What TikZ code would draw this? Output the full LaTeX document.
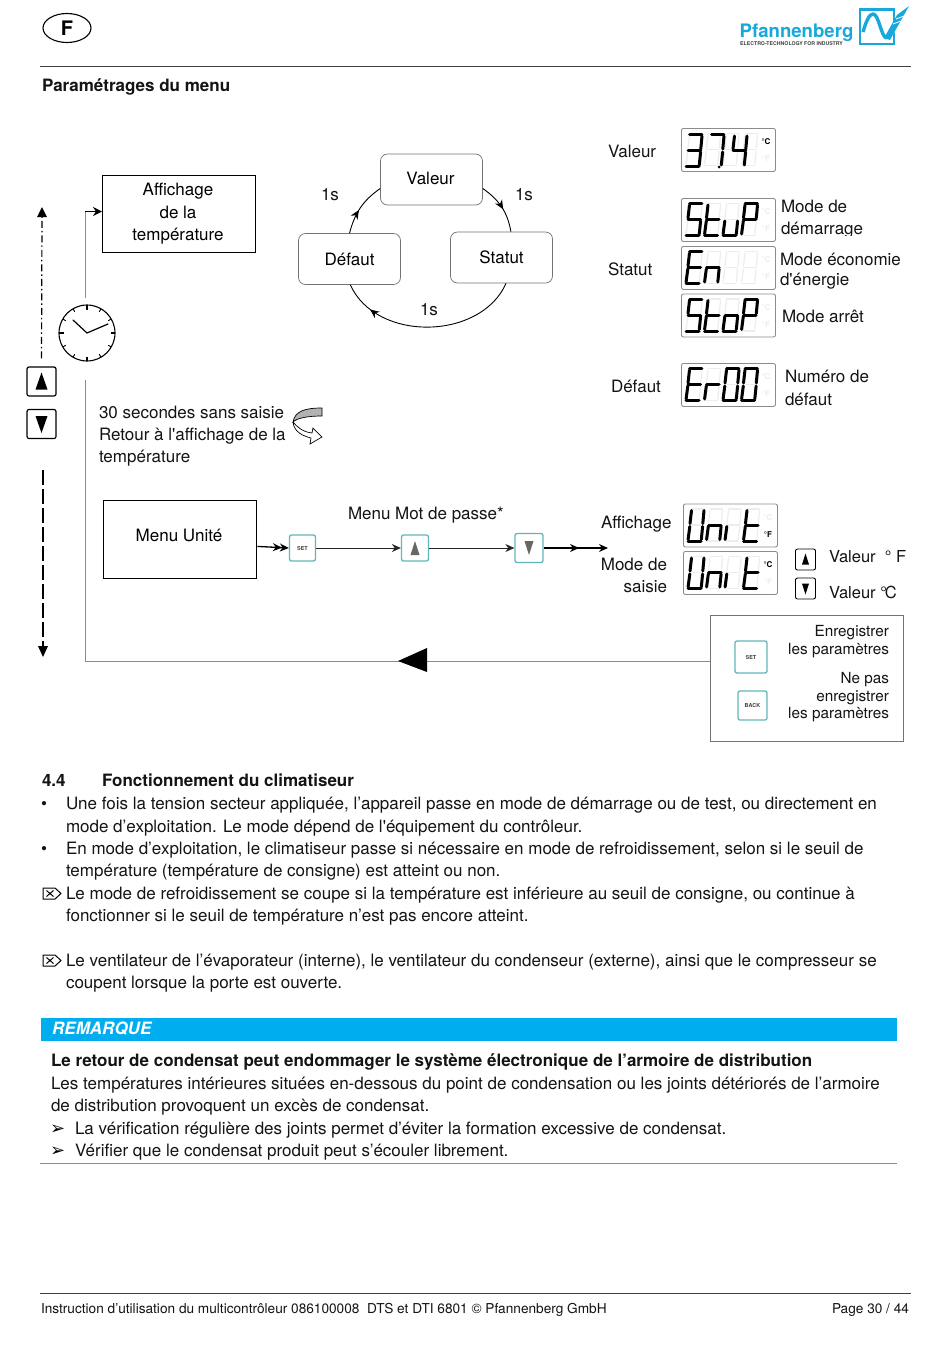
\documentclass[tikz,border=0pt]{standalone}
\usepackage{fontspec}
\setmainfont{TeX Gyre Heros}[Ligatures=TeXOff]
\newfontfamily\symfont{DejaVu Sans}
\usetikzlibrary{arrows.meta,decorations.markings,calc,shapes.geometric}
\definecolor{pfcyan}{HTML}{00AEEF}
\definecolor{logocyan}{HTML}{18A8DC}
\definecolor{teal}{HTML}{5FB8BC}
\definecolor{linegray}{HTML}{8C8C8C}
\definecolor{ghostgray}{HTML}{EDEDED}
\definecolor{rulegray}{HTML}{404040}
\tikzset{
 x=1pt,y=1pt,
 txt/.style={anchor=base west,inner sep=0pt,outer sep=0pt,font=\fontsize{17}{19}\selectfont,text=black!92},
 txtr/.style={txt,anchor=base east},
 txtb/.style={txt,font=\fontsize{17}{19}\selectfont\bfseries},
 sq/.style={draw=black,line width=1.3pt,fill=white,inner sep=0pt},
 sqtext/.style={inner sep=0pt,align=center,font=\fontsize{17}{22.5}\selectfont},
 rbox/.style={draw=black!55,line width=.7pt,rounded corners=7pt,fill=white,minimum width=102pt,minimum height=51pt,inner sep=0pt,font=\fontsize{17}{19}\selectfont},
 cyc/.style={draw=black,line width=.9pt},
 lcdbox/.style={draw=black!45,line width=.9pt,rounded corners=2pt,fill=white,minimum width=94pt,minimum height=43pt,inner sep=0pt},
 seg/.style={line width=3pt,line cap=round,black},
 gseg/.style={line width=1.2pt,line cap=round,ghostgray},
 keybtn/.style={draw=black,line width=1.2pt,rounded corners=2pt,fill=white,inner sep=0pt},
 tealbtn/.style={draw=teal,line width=1.3pt,rounded corners=2pt,fill=white,inner sep=0pt,font=\fontsize{5.5}{6}\selectfont\bfseries,text=black!75},
 flow/.style={draw=black!85,line width=.9pt},
 tip/.style={-{Stealth[length=9pt,width=8pt]}},
 midtip/.style={postaction={decorate},decoration={markings,mark=at position #1 with {\arrow{Stealth[length=9pt,width=8pt]}}}},
 hair/.style={line width=1pt,rulegray},
}
\newcommand{\tl}[4]{\node[txt] (#1) at (#2,-#3) {#4};}
\newcommand{\trt}[4]{\node[txtr] (#1) at (#2,-#3) {#4};}
\newcommand{\tb}[4]{\node[txtb] (#1) at (#2,-#3) {#4};}
\newcommand{\segpts}{%
 \coordinate (a1) at (3.7,0);\coordinate (a2) at (15.8,0);
 \coordinate (b1) at (16,-1.5);\coordinate (b2) at (14.8,-14.5);
 \coordinate (c1) at (14.6,-17.5);\coordinate (c2) at (13.3,-30.5);
 \coordinate (d1) at (0.2,-32);\coordinate (d2) at (13,-32);
 \coordinate (e1) at (1.8,-17.5);\coordinate (e2) at (0.1,-30.5);
 \coordinate (f1) at (3.5,-1.5);\coordinate (f2) at (2,-14.5);
 \coordinate (g1) at (2.2,-16);\coordinate (g2) at (14.5,-16);}
\newcommand{\ghostdig}[2]{\begin{scope}[shift={(#1,{-(#2)})}]\segpts
 \foreach \s in {a,b,c,d,e,f,g}{\draw[gseg] (\s1)--(\s2);}\end{scope}}
\newcommand{\litdig}[3]{\begin{scope}[shift={(#1,{-(#2)})}]\segpts
 \foreach \s in {#3}{\draw[seg] (\s1)--(\s2);}\end{scope}}
% display: name, left x, top y, C colour, F colour
\newcommand{\lcd}[5]{%
 \node[lcdbox,anchor=north west] (#1) at (#2,-#3) {};
 \foreach \i in {0,1,2,3}{\ghostdig{#2+5+\i*18.5}{#3+5.5}}
 \node[inner sep=0pt,font=\fontsize{8}{8}\selectfont\bfseries,text=#4] (#1C) at (#2+85,-#3-14) {°C};
 \node[inner sep=0pt,font=\fontsize{8}{8}\selectfont\bfseries,text=#5] (#1F) at (#2+85,-#3-31) {°F};}
% digits of a display: left x, top y, then four segment lists
\newcommand{\lcdword}[6]{%
 \litdig{#1+5}{#2+5.5}{#3}\litdig{#1+23.5}{#2+5.5}{#4}\litdig{#1+42}{#2+5.5}{#5}\litdig{#1+60.5}{#2+5.5}{#6}}
\newcommand{\erasebox}[2]{%
 \draw[line width=1pt,line join=miter] (#1,-#2) -- (#1+12,-#2) -- (#1+18,-#2-5.5) -- (#1+12,-#2-11) -- (#1,-#2-11) -- cycle;
 \draw[line width=1pt] (#1+3.5,-#2-2.5) -- (#1+10.5,-#2-8.5) (#1+3.5,-#2-8.5) -- (#1+10.5,-#2-2.5);}
\begin{document}
\begin{tikzpicture}
\useasboundingbox (0,0) rectangle (950,-1369);
\fill[white] (0,0) rectangle (950,-1369);
% ---------- header
\node[ellipse,draw=black,line width=1.1pt,minimum width=48pt,minimum height=29pt,inner sep=0pt,font=\fontsize{20}{20}\selectfont\bfseries] (lang) at (67,-28) {F};
\draw[hair] (40,-66.5) -- (911,-66.5);
\tb{title}{42}{91}{Paramétrages du menu}
% logo
\node[anchor=base west,inner sep=0pt,font=\fontsize{18.6}{19}\selectfont\bfseries,text=logocyan] (logoname) at (739.5,-37) {Pfannenberg};
\node[anchor=base west,inner sep=0pt,font=\fontsize{5.2}{6}\selectfont\bfseries,text=black!75] (logosub) at (740,-45) {ELECTRO-TECHNOLOGY FOR INDUSTRY};
\draw[logocyan,line width=2.8pt] (860,-9.5) rectangle (894,-44);
\draw[white,line width=6pt] (888,-36) -- (908,-8);
\draw[logocyan,line width=3.4pt,line join=round] (863,-32) .. controls (866,-22) and (869,-14) .. (873,-14) .. controls (879,-14) and (881,-38) .. (887,-38);
\fill[logocyan] (884,-38) -- (890,-40) -- (909,-6) -- (897,-15) -- cycle;
\draw[white,line width=.8pt] (893,-24) -- (901,-21) (896,-19) -- (904,-16);
% ---------- cycle
\node[rbox] (val) at (431.5,-179.5) {\raisebox{2pt}{\hspace{-2pt}Valeur}};
\node[rbox] (def) at (349.5,-259) {Défaut};
\node[rbox] (sta) at (501.5,-257.5) {Statut};
\draw[cyc,midtip=0.45] (def.north) to[out=75,in=215] (val.190);
\draw[cyc,midtip=0.55] (val.-10) to[out=-35,in=100] (sta.70);
\draw[cyc,midtip=0.83] (sta.-80) to[out=-114,in=-66,looseness=1.03] (def.-88);
\tl{s1}{321}{200}{1s}
\tl{s2}{515}{200}{1s}
\tl{s3}{420}{315}{1s}
% ---------- display column
\tl{lval}{608}{157}{Valeur}
\lcd{dval}{681}{128}{black}{ghostgray}
\litdig{686}{134.5}{a,b,g,c,d}
\litdig{708}{134.5}{a,b,c}
\litdig{731}{134.5}{f,g,b,c}
\fill (719,-167) circle (1.5pt);
\tl{lsta}{608}{275}{Statut}
\lcd{dstup}{681}{198}{ghostgray}{ghostgray}
\lcdword{681}{198}{a,f,g,c,d}{f,g,e,d}{e,d,c}{a,b,f,g,e}
\lcd{den}{681}{246}{ghostgray}{ghostgray}
\lcdword{681}{246}{a,f,g,e,d}{e,g,c}{}{}
\lcd{dstop}{681}{293.5}{ghostgray}{ghostgray}
\lcdword{681}{293.5}{a,f,g,c,d}{f,g,e,d}{g,e,c,d}{a,b,f,g,e}
\lcd{derr}{681}{363}{ghostgray}{ghostgray}
\lcdword{681}{363}{a,f,g,e,d}{e,g}{a,b,c,d,e,f}{a,b,c,d,e,f}
\tl{ldef}{611}{392}{Défaut}
\tl{m1}{781}{212}{Mode de}
\begin{scope}
\clip (775,-214) rectangle (900,-235);
\tl{m2}{781}{234}{démarrage}
\end{scope}
\tl{m3}{780}{265}{Mode économie}
\tl{m4}{780}{285}{d'énergie}
\tl{m5}{782}{322}{Mode arrêt}
\tl{m6}{785}{382}{Numéro de}
\tl{m7}{785}{405}{défaut}
% ---------- left side
\node[sq,anchor=north west,minimum width=153pt,minimum height=77pt] (aff) at (102,-175) {};
\node[sqtext] (afflabel) at (178,-214) {Affichage\\de la\\température};
\node[sq,anchor=north west,minimum width=153pt,minimum height=78pt] (unit) at (103,-500) {};
\node[sqtext] (unitlabel) at (179,-535) {Menu Unité};
% clock
\node[circle,draw=black,line width=1.1pt,minimum size=56pt,inner sep=0pt,fill=white] (clock) at (87,-333) {};
\foreach \a in {0,90,180,270}{\draw[line width=1.2pt] (clock.center)++(\a:23.5) -- ++(\a:4.5);}
\foreach \a in {30,60,120,150,210,240,300,330}{\draw[line width=.9pt] (clock.center)++(\a:24.5) -- ++(\a:3.5);}
\draw[line width=1.2pt,line cap=round] (73,-320) -- (87,-333) -- (108,-324);
% keys and dashed arrows
\node[keybtn,minimum size=29pt] (kup) at (41.5,-381.5) {};
\node[keybtn,minimum size=29pt] (kdn) at (41.5,-424) {};
\fill ([shift={(0,9)}]kup.center) -- ([shift={(6,-8)}]kup.center) -- ([shift={(-6,-8)}]kup.center) -- cycle;
\fill ([shift={(0,-9)}]kdn.center) -- ([shift={(6,8)}]kdn.center) -- ([shift={(-6,8)}]kdn.center) -- cycle;
\coordinate (uptop) at (42,-207);
\coordinate (dnbot) at (43,-657);
\coordinate (dnstart) at (43,-470);
\draw[line width=1.2pt,dash pattern=on 7pt off 3pt on 1.5pt off 3pt] ([yshift=8pt]kup.north) -- ([yshift=-8pt]uptop);
\fill (uptop) -- ++(-5,-10) -- ++(10,0) -- cycle;
\draw[line width=1.2pt,dash pattern=on 15pt off 4pt] (dnstart) -- ([yshift=9pt]dnbot);
\fill (dnbot) -- ++(-5,11) -- ++(10,0) -- cycle;
\tl{wait1}{99}{418}{30 secondes sans saisie}
\tl{wait2}{99}{440}{Retour à l'affichage de la}
\tl{wait3}{99}{462}{température}
% curved arrow
\filldraw[fill=black!30,draw=black,line width=.7pt] (322,-408) .. controls (305,-408) and (295,-411) .. (293,-422) .. controls (297,-418) and (308,-416) .. (322,-416) -- cycle;
\filldraw[fill=white,draw=black,line width=.7pt] (293,-422) .. controls (294,-432) and (303,-436) .. (311,-438) -- (310,-444) -- (322,-437) -- (313,-428) -- (312,-433) .. controls (303,-432) and (297,-427) .. (293,-422);
% ---------- menu row
\node[tealbtn,minimum width=26pt,minimum height=26pt] (set) at (302.5,-548) {SET};
\node[tealbtn,minimum width=27pt,minimum height=26pt] (bup) at (415,-548) {};
\node[tealbtn,minimum width=28pt,minimum height=29pt] (bdn) at (529,-548) {};
\fill[black!60] ([shift={(0,7)}]bup.center) -- ([shift={(4.5,-7)}]bup.center) -- ([shift={(-4.5,-7)}]bup.center) -- cycle;
\fill[black!60] ([shift={(0,-7)}]bdn.center) -- ([shift={(4.5,7)}]bdn.center) -- ([shift={(-4.5,7)}]bdn.center) -- cycle;
\draw[line width=1.3pt,tip,midtip=0.78] (unit.-5) -- (set.west);
\draw[flow,tip] (set.east) -- (bup.west);
\draw[flow,tip] (bup.east) -- (bdn.west);
\coordinate (rowend) at (608,-548);
\draw[line width=1.1pt,tip,midtip=0.55] (bdn.east) -- (rowend);
\tl{pw}{348}{519}{Menu Mot de passe*}
\begin{scope}
\clip (595,-500) rectangle (670.5,-540);
\tl{aff2}{601}{528}{Affichage}
\end{scope}
\trt{ms1}{667}{570}{Mode de}
\trt{ms2}{667}{592}{saisie}
\lcd{dun1}{683}{503.5}{ghostgray}{black}
\lcdword{683}{503.5}{e,d,c,b,f}{e,g,c}{e}{f,g,e,d}
\lcd{dun2}{683}{551}{black}{ghostgray}
\lcdword{683}{551}{e,d,c,b,f}{e,g,c}{e}{f,g,e,d}
\node[keybtn,line width=.9pt,minimum width=20pt,minimum height=21pt] (su) at (805.5,-559.5) {};
\node[keybtn,line width=.9pt,minimum width=20pt,minimum height=21pt] (sd) at (805.5,-588.5) {};
\fill ([shift={(0,6)}]su.center) -- ([shift={(3.5,-5)}]su.center) -- ([shift={(-3.5,-5)}]su.center) -- cycle;
\fill ([shift={(0,-6)}]sd.center) -- ([shift={(3.5,5)}]sd.center) -- ([shift={(-3.5,5)}]sd.center) -- cycle;
\tl{vf}{829}{562}{\fontsize{16.5}{19}\selectfont Valeur \ ° F}
\tl{vc}{829}{598}{\fontsize{16.5}{19}\selectfont Valeur °\kern-2pt C}
% ---------- save box
\node[draw=black!55,line width=.8pt,fill=white,anchor=north west,minimum width=193pt,minimum height=126pt,inner sep=0pt] (save) at (709.5,-615) {};
\node[tealbtn,minimum width=32pt,minimum height=32pt] (bset) at (751,-657) {SET};
\node[tealbtn,minimum width=29pt,minimum height=29pt] (bback) at (752.5,-705.5) {BACK};
\trt{e1}{889}{636}{\fontsize{15.3}{18}\selectfont Enregistrer}
\trt{e2}{889}{654}{\fontsize{15.3}{18}\selectfont les paramètres}
\trt{e3}{889}{683}{\fontsize{15.3}{18}\selectfont Ne pas}
\trt{e4}{889}{701}{\fontsize{15.3}{18}\selectfont enregistrer}
\trt{e5}{889}{718}{\fontsize{15.3}{18}\selectfont les paramètres}
% ---------- grey connectors
\coordinate (corner) at (85,-661);
\coordinate (stub) at (85,-380);
\coordinate (upstart) at (85,-298);
\coordinate (upknee) at (85,-211.5);
\draw[linegray,line width=1pt] (save.west |- corner) -- (corner) -- (stub);
\draw[linegray,line width=1pt] (upstart) -- (upknee);
\draw[black,line width=1.2pt,-{Stealth[length=9pt,width=9pt]}] (upknee) -- (aff.west |- upknee);
\fill (398,-661) -- (427,-648) -- (427,-672) -- cycle;
% ---------- section text
\tb{h1}{42}{786}{4.4}
\tb{h2}{102}{786}{Fonctionnement du climatiseur}
\tl{bu1}{41}{809}{•}
\tl{p1}{66}{809}{Une fois la tension secteur appliquée, l’appareil passe en mode de démarrage ou de test, ou directement en}
\tl{p2}{66}{832}{mode d’exploitation. Le mode dépend de l'équipement du contrôleur.}
\tl{bu2}{41}{854}{•}
\tl{p3}{66}{854}{En mode d’exploitation, le climatiseur passe si nécessaire en mode de refroidissement, selon si le seuil de}
\tl{p4}{66}{876}{température (température de consigne) est atteint ou non.}
\erasebox{43}{888}
\tl{p5}{66}{899}{Le mode de refroidissement se coupe si la température est inférieure au seuil de consigne, ou continue à}
\tl{p6}{66}{921}{fonctionner si le seuil de température n’est pas encore atteint.}
\erasebox{43}{955}
\tl{p7}{66}{966}{Le ventilateur de l’évaporateur (interne), le ventilateur du condenseur (externe), ainsi que le compresseur se}
\tl{p8}{66}{988}{coupent lorsque la porte est ouverte.}
% ---------- note
\fill[pfcyan] (41,-1018) rectangle (897,-1040.5);
\node[anchor=base west,inner sep=0pt,font=\fontsize{17}{19}\selectfont\bfseries\itshape,text=white] (rem) at (52,-1034) {REMARQUE};
\tb{n1}{51}{1066}{Le retour de condensat peut endommager le système électronique de l’armoire de distribution}
\tl{n2}{51}{1089}{Les températures intérieures situées en-dessous du point de condensation ou les joints détériorés de l’armoire}
\tl{n3}{51}{1111}{de distribution provoquent un excès de condensat.}
\node[anchor=base west,inner sep=0pt,font=\symfont\fontsize{18}{18}\selectfont] (ar1) at (50,-1134) {➢};
\tl{n4}{75}{1134}{La vérification régulière des joints permet d’éviter la formation excessive de condensat.}
\node[anchor=base west,inner sep=0pt,font=\symfont\fontsize{18}{18}\selectfont] (ar2) at (50,-1156) {➢};
\tl{n5}{75}{1156}{Vérifier que le condensat produit peut s’écouler librement.}
\draw[linegray,line width=1pt] (40,-1163.5) -- (897,-1163.5);
% ---------- footer
\draw[hair] (40,-1293.5) -- (911,-1293.5);
\tl{f1}{41}{1313}{\fontsize{13.65}{17}\selectfont Instruction d’utilisation du multicontrôleur 086100008\ \ DTS et DTI 6801 © Pfannenberg GmbH}
\trt{f2}{909}{1313}{\fontsize{13.65}{17}\selectfont Page 30 / 44}
\end{tikzpicture}
\end{document}
